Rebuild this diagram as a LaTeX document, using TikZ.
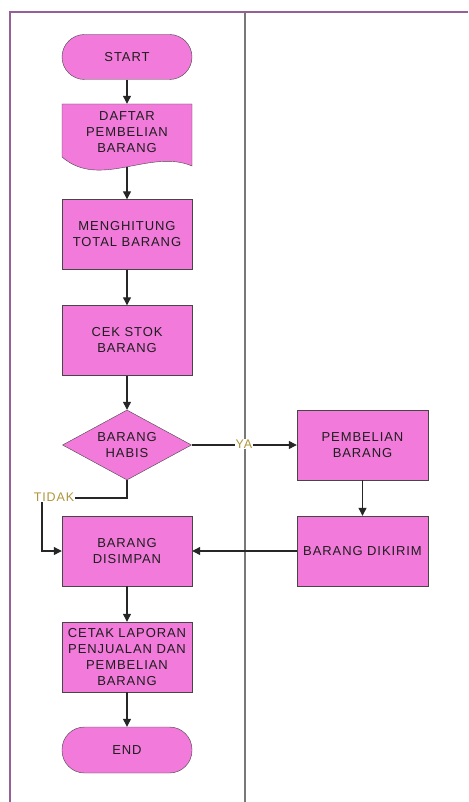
\documentclass[tikz,border=0pt]{standalone}
\usepackage{fontspec}
\setmainfont{Liberation Sans}
\newfontfamily\flowfont[LetterSpace=7]{Liberation Sans}
\usetikzlibrary{shapes.geometric}
\usetikzlibrary{arrows.meta}

\definecolor{flowpink}{RGB}{241,122,218}
\definecolor{flowline}{RGB}{70,70,70}
\definecolor{lanepurple}{RGB}{150,95,150}
\definecolor{lanegray}{RGB}{120,120,120}
\definecolor{labelgold}{RGB}{175,150,60}

\tikzset{
  flowtext/.style={align=center, text={rgb,255:red,30;green,30;blue,30}, font=\flowfont\fontsize{13}{16}\selectfont},
  procbox/.style={flowtext, draw=flowline, fill=flowpink, minimum width=130, minimum height=70, inner sep=0},
  termbox/.style={flowtext, draw=flowline, fill=flowpink, minimum width=130, minimum height=45, rounded corners=22.5, inner sep=0},
  decbox/.style={flowtext, diamond, draw=flowline, fill=flowpink, minimum width=129, minimum height=70, aspect=1.84, inner sep=0},
  flowarrow/.style={draw=black!85, line width=1.2, -{Triangle[length=8,width=8]}},
  branchlabel/.style={fill=white, text=labelgold, inner sep=1, font=\flowfont\fontsize{12.5}{14}\selectfont},
}

\begin{document}
\begin{tikzpicture}[x=1pt,y=1pt,yscale=-1]
\useasboundingbox (0,0) rectangle (468,802);

%Shape: Lanes
\draw [lanepurple, line width=1.5] (10,802) -- (10,12) -- (468,12) ;
\draw [lanegray, line width=1.5] (245,12) -- (245,802) ;

%Shape: Terminator
\node [termbox] (start) at (127,57) {START};

%Shape: Document
\draw [draw=flowline, fill=flowpink] (62,104) -- (192,104) -- (192,166) .. controls (150,148) and (100,190) .. (62,157) -- cycle ;
\node [flowtext, minimum width=130, minimum height=56, inner sep=0] (daftar) at (127,132) {DAFTAR\\PEMBELIAN\\BARANG};
\coordinate (daftarbot) at (127,167);

%Shape: Rectangle
\node [procbox] (hitung) at (127,234.5) {MENGHITUNG\\TOTAL BARANG};
\node [procbox] (cek) at (127,340.5) {CEK STOK\\BARANG};

%Shape: Diamond
\node [decbox] (habis) at (127,445) {BARANG\\HABIS};

%Shape: Rectangle
\node [procbox, minimum width=131] (beli) at (362.5,445) {PEMBELIAN\\BARANG};
\node [procbox, minimum width=131] (kirim) at (362.5,551) {BARANG DIKIRIM};
\node [procbox] (simpan) at (127,551) {BARANG\\DISIMPAN};
\node [procbox] (cetak) at (127,657) {CETAK LAPORAN\\PENJUALAN DAN\\PEMBELIAN\\BARANG};

%Shape: Terminator
\node [termbox, minimum height=46] (end) at (127,750) {END};

%Straight Lines
\draw [flowarrow] (start) -- (daftar.north) ;
\draw [flowarrow] (daftarbot) -- (hitung) ;
\draw [flowarrow] (hitung) -- (cek) ;
\draw [flowarrow] (cek) -- (habis) ;
\draw [flowarrow] (habis) -- (beli) ;
\draw [flowarrow] (beli) -- (kirim) ;
\draw [flowarrow] (kirim) -- (simpan) ;
\coordinate (tidakpt) at (42,498);
\draw [flowarrow] (habis.south) |- (tidakpt) |- (simpan.west) ;
\draw [flowarrow] (simpan) -- (cetak) ;
\draw [flowarrow] (cetak) -- (end) ;

% Text Node
\node [branchlabel] (ya) at (244,444) {YA};
\node [branchlabel] (tidak) at (54,497) {TIDAK};

\end{tikzpicture}
\end{document}
